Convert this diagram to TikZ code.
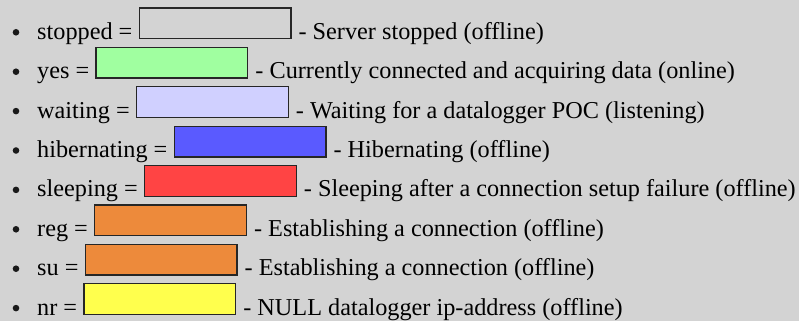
\documentclass[tikz,border=0pt]{standalone}
\usepackage{fontspec}
\setmainfont{Liberation Serif}
\usepackage{tikz}
\usetikzlibrary{positioning}

\definecolor{pagebg}{HTML}{D3D3D3}
\definecolor{cyes}{HTML}{A0FFA0}
\definecolor{cwaiting}{HTML}{D0D0FF}
\definecolor{chibern}{HTML}{5A5AFF}
\definecolor{csleep}{HTML}{FF4444}
\definecolor{cconn}{HTML}{ED8A3B}
\definecolor{cnull}{HTML}{FFFF4D}

\begin{document}
\begin{tikzpicture}[x=1pt,y=-1pt]
        \tikzstyle{lbl}=[anchor=base west, inner sep=0pt, font=\fontsize{24.25}{28}\selectfont]
        \tikzstyle{desc}=[lbl]
        \tikzstyle{dot}=[circle, fill=black!90, inner sep=0pt, minimum size=6.6pt]
        \tikzstyle{swatch}=[draw=black!85, line width=1.3pt, inner sep=0pt, minimum width=151.7pt, minimum height=30.7pt]

        \path[fill=pagebg, use as bounding box] (0,0) rectangle (799,321);

        % stopped
        \node[dot] (b1) at (16,32.3) {};
        \node[lbl] (l1) at (37,39.3) {stopped =};
        \node[swatch, right=6pt of l1.base east, anchor=south west] (s1) {};
        \node[desc, right=6.8pt of s1.south east, anchor=base west] (d1) {- Server stopped (offline)};

        % yes
        \node[dot] (b2) at (16,71.7) {};
        \node[lbl] (l2) at (37,78.7) {yes =};
        \node[swatch, fill=cyes, right=6pt of l2.base east, anchor=south west] (s2) {};
        \node[desc, right=6.8pt of s2.south east, anchor=base west] (d2) {- Currently connected and acquiring data (online)};

        % waiting
        \node[dot] (b3) at (16,111.1) {};
        \node[lbl] (l3) at (37,118.1) {waiting =};
        \node[swatch, fill=cwaiting, right=6pt of l3.base east, anchor=south west] (s3) {};
        \node[desc, right=6.8pt of s3.south east, anchor=base west] (d3) {- Waiting for a datalogger POC (listening)};

        % hibernating
        \node[dot] (b4) at (16,150.5) {};
        \node[lbl] (l4) at (37,157.5) {hibernating =};
        \node[swatch, fill=chibern, right=6pt of l4.base east, anchor=south west] (s4) {};
        \node[desc, right=6.8pt of s4.south east, anchor=base west] (d4) {- Hibernating (offline)};

        % sleeping
        \node[dot] (b5) at (16,189.9) {};
        \node[lbl] (l5) at (37,196.9) {sleeping =};
        \node[swatch, fill=csleep, right=6pt of l5.base east, anchor=south west] (s5) {};
        \node[desc, right=6.8pt of s5.south east, anchor=base west] (d5) {- Sleeping after a connection setup failure (offline)};

        % reg
        \node[dot] (b6) at (16,229.3) {};
        \node[lbl] (l6) at (37,236.3) {reg =};
        \node[swatch, fill=cconn, right=6pt of l6.base east, anchor=south west] (s6) {};
        \node[desc, right=6.8pt of s6.south east, anchor=base west] (d6) {- Establishing a connection (offline)};

        % su
        \node[dot] (b7) at (16,268.7) {};
        \node[lbl] (l7) at (37,275.7) {su =};
        \node[swatch, fill=cconn, right=6pt of l7.base east, anchor=south west] (s7) {};
        \node[desc, right=6.8pt of s7.south east, anchor=base west] (d7) {- Establishing a connection (offline)};

        % nr
        \node[dot] (b8) at (16,308.1) {};
        \node[lbl] (l8) at (37,315.1) {nr =};
        \node[swatch, fill=cnull, right=6pt of l8.base east, anchor=south west] (s8) {};
        \node[desc, right=6.8pt of s8.south east, anchor=base west] (d8) {- NULL datalogger ip-address (offline)};

    \end{tikzpicture}
\end{document}
